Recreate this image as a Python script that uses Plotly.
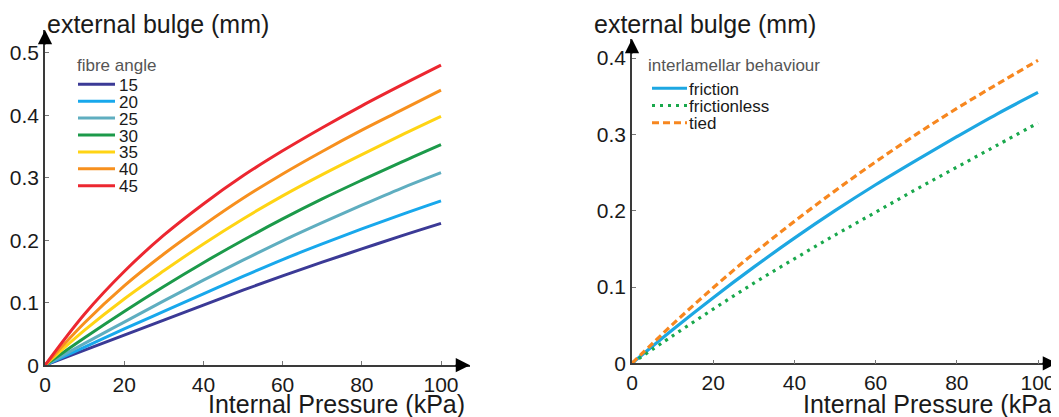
import plotly.graph_objects as go

# The page body has an 8px margin, so the figure is drawn 8px in from the
# top-left corner; size and positions below compensate for that.
VIEW_W, VIEW_H = 1059, 417
OFF = 8
W, H = VIEW_W - OFF, VIEW_H - OFF
FONT = "Liberation Sans, Arial, Helvetica, sans-serif"

# ---------------- data ----------------
pressure = [0, 10, 20, 30, 40, 50, 60, 70, 80, 90, 100]

fibre_angles = ["15", "20", "25", "30", "35", "40", "45"]
bulge_15 = [0, 0.024, 0.048, 0.072, 0.096, 0.120, 0.143, 0.165, 0.186, 0.207, 0.227]
bulge_20 = [0, 0.029, 0.058, 0.086, 0.114, 0.142, 0.169, 0.194, 0.218, 0.241, 0.263]
bulge_25 = [0, 0.035, 0.069, 0.103, 0.136, 0.168, 0.199, 0.228, 0.256, 0.283, 0.308]
bulge_30 = [0, 0.044, 0.086, 0.126, 0.164, 0.200, 0.234, 0.266, 0.296, 0.325, 0.353]
bulge_35 = [0, 0.056, 0.106, 0.151, 0.194, 0.234, 0.271, 0.305, 0.337, 0.368, 0.398]
bulge_40 = [0, 0.068, 0.127, 0.178, 0.224, 0.267, 0.306, 0.342, 0.376, 0.408, 0.440]
bulge_45 = [0, 0.082, 0.150, 0.208, 0.258, 0.303, 0.343, 0.380, 0.415, 0.448, 0.480]
fibre_series = [bulge_15, bulge_20, bulge_25, bulge_30, bulge_35, bulge_40, bulge_45]
fibre_colors = ["#3B3A96", "#18A8EC", "#5FAEC0", "#1C9A4A", "#FFD414", "#F7901E", "#EC2730"]

behaviours = ["friction", "frictionless", "tied"]
bulge_friction = [0, 0.044, 0.086, 0.126, 0.164, 0.200, 0.234, 0.266, 0.297, 0.327, 0.355]
bulge_frictionless = [0, 0.036, 0.071, 0.105, 0.137, 0.168, 0.198, 0.228, 0.257, 0.286, 0.315]
bulge_tied = [0, 0.051, 0.099, 0.144, 0.186, 0.226, 0.264, 0.300, 0.334, 0.366, 0.397]
behaviour_series = [bulge_friction, bulge_frictionless, bulge_tied]
behaviour_colors = ["#1DA7E2", "#19A84C", "#F7871F"]
behaviour_dash = ["solid", "3px,5px", "7px,4px"]

x_ticks = [0, 20, 40, 60, 80, 100]
left_y_ticks = [0, 0.1, 0.2, 0.3, 0.4, 0.5]
left_y_labels = ["0", "0.1", "0.2", "0.3", "0.4", "0.5"]
right_y_ticks = [0, 0.1, 0.2, 0.3, 0.4]
right_y_labels = ["0", "0.1", "0.2", "0.3", "0.4"]

y_title = "external bulge (mm)"
x_title = "Internal Pressure (kPa)"
left_legend_title = "fibre angle"
right_legend_title = "interlamellar behaviour"


def px(x):
    """screen x pixel -> paper coordinate"""
    return (x - OFF) / W


def py(y):
    """screen y pixel -> paper coordinate"""
    return 1 - (y - OFF) / H


fig = go.Figure()

for name, vals, col in zip(fibre_angles, fibre_series, fibre_colors):
    fig.add_trace(go.Scatter(x=pressure, y=vals, mode="lines", name=name,
                             line=dict(color=col, width=3, shape="spline", smoothing=1.0),
                             xaxis="x", yaxis="y", showlegend=False, cliponaxis=False))

for name, vals, col, dash in zip(behaviours, behaviour_series, behaviour_colors, behaviour_dash):
    fig.add_trace(go.Scatter(x=pressure, y=vals, mode="lines", name=name,
                             line=dict(color=col, width=3.2, dash=dash, shape="spline", smoothing=1.0),
                             xaxis="x2", yaxis="y2", showlegend=False, cliponaxis=False))

axis_common = dict(showgrid=False, zeroline=False, showline=True, linecolor="#3a3a3a",
                   linewidth=1.5, ticks="inside", ticklen=4, tickcolor="#777",
                   tickwidth=1, tickfont=dict(family=FONT, size=21, color="#1a1a1a"),
                   fixedrange=True, automargin=False)

fig.update_layout(
    width=W, height=H, autosize=False,
    margin=dict(l=0, r=0, t=0, b=0, autoexpand=False),
    paper_bgcolor="white", plot_bgcolor="white",
    showlegend=False,
    xaxis=dict(domain=[px(45), px(470)], range=[0, (470 - 45) / 3.96],
               tickvals=x_ticks, anchor="y", **axis_common),
    yaxis=dict(domain=[py(365.2), py(30)], range=[0, (365.2 - 30) / 625],
               tickvals=left_y_ticks, ticktext=left_y_labels, anchor="x", **axis_common),
    xaxis2=dict(domain=[px(632), px(1057)], range=[0, (1057 - 632) / 4.06],
                tickvals=x_ticks, anchor="y2", **axis_common),
    yaxis2=dict(domain=[py(363.3), py(39)], range=[0, (363.3 - 39) / 763],
                tickvals=right_y_ticks, ticktext=right_y_labels, anchor="x2", **axis_common),
)

ann = []
# axis arrows
for xa, ya in [("x", "y"), ("x2", "y2")]:
    ann.append(dict(xref=xa + " domain", yref=ya, x=1.0, y=0, ax=-16, ay=0,
                    text="", showarrow=True, arrowhead=2, arrowsize=1.9, arrowwidth=1.5,
                    arrowcolor="black", standoff=0))
    ann.append(dict(xref=xa, yref=ya + " domain", x=0, y=1.0, ax=0, ay=16,
                    text="", showarrow=True, arrowhead=2, arrowsize=1.9, arrowwidth=1.5,
                    arrowcolor="black", standoff=0))

# axis titles
title_font = dict(family=FONT, size=25, color="#1a1a1a")
ann.append(dict(xref="paper", yref="paper", x=px(45), y=py(24), text=y_title,
                showarrow=False, xanchor="left", yanchor="middle", font=title_font))
ann.append(dict(xref="paper", yref="paper", x=px(592), y=py(24), text=y_title,
                showarrow=False, xanchor="left", yanchor="middle", font=title_font))
ann.append(dict(xref="paper", yref="paper", x=px(206), y=py(403.5), text=x_title,
                showarrow=False, xanchor="left", yanchor="middle", font=title_font))
ann.append(dict(xref="paper", yref="paper", x=px(801), y=py(403.5), text=x_title,
                showarrow=False, xanchor="left", yanchor="middle", font=title_font))

# legends (drawn as keys + labels)
leg_font = dict(family=FONT, size=17, color="#1a1a1a")
leg_title_font = dict(family=FONT, size=17, color="#555555")
shapes = []

ann.append(dict(xref="paper", yref="paper", x=px(75), y=py(65), text=left_legend_title,
                showarrow=False, xanchor="left", yanchor="middle", font=leg_title_font))
for i, (name, col) in enumerate(zip(fibre_angles, fibre_colors)):
    yy = 84.3 + i * 16.9
    shapes.append(dict(type="line", xref="paper", yref="paper",
                       x0=px(78), x1=px(115), y0=py(yy), y1=py(yy),
                       line=dict(color=col, width=3)))
    ann.append(dict(xref="paper", yref="paper", x=px(117), y=py(yy + 1), text=name,
                    showarrow=False, xanchor="left", yanchor="middle", font=leg_font))

ann.append(dict(xref="paper", yref="paper", x=px(646), y=py(65), text=right_legend_title,
                showarrow=False, xanchor="left", yanchor="middle", font=leg_title_font))
for i, (name, col, dash) in enumerate(zip(behaviours, behaviour_colors, behaviour_dash)):
    yy = 88.3 + i * 17.2
    shapes.append(dict(type="line", xref="paper", yref="paper",
                       x0=px(652), x1=px(687), y0=py(yy), y1=py(yy),
                       line=dict(color=col, width=3, dash=dash)))
    ann.append(dict(xref="paper", yref="paper", x=px(687), y=py(yy + 1), text=name,
                    showarrow=False, xanchor="left", yanchor="middle", font=leg_font))

fig.update_layout(annotations=ann, shapes=shapes)

fig.write_html("out.html")
